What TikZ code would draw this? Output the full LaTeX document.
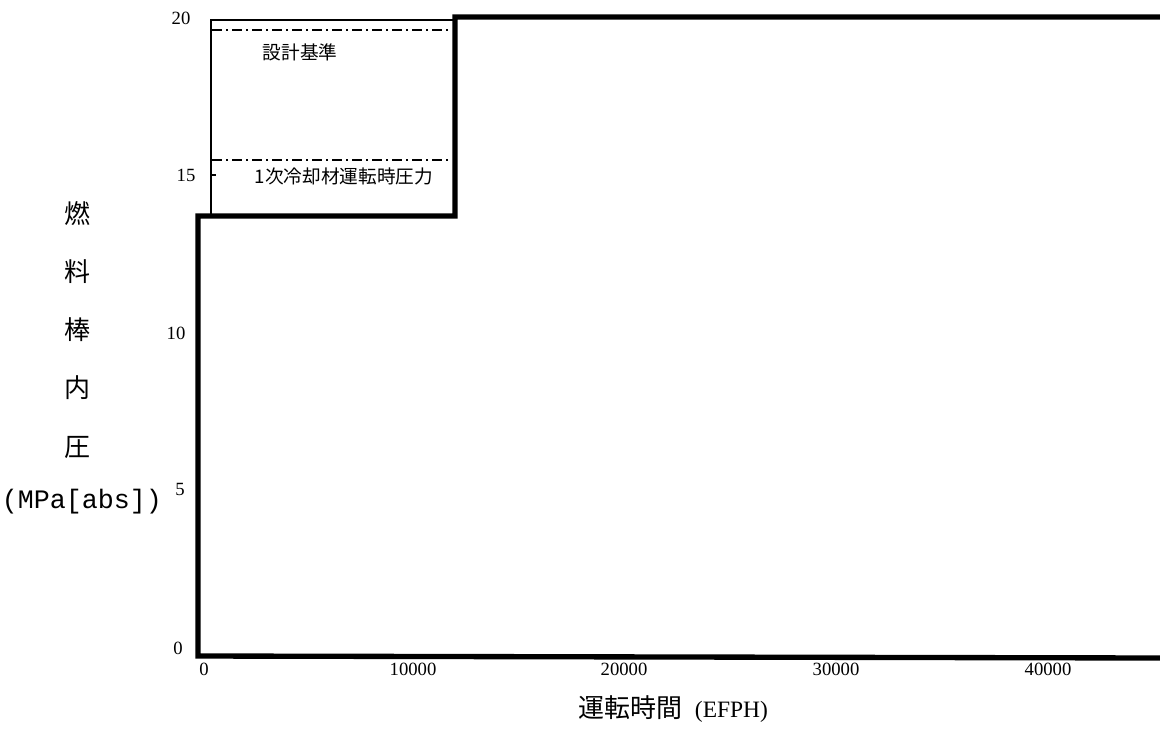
\documentclass[tikz,border=0pt]{standalone}
\usepackage{fontspec}
\setmainfont{Liberation Serif}
\setmonofont{Liberation Mono}
\newfontfamily\jpfont{Noto Sans CJK JP}
\usetikzlibrary{positioning}
\tikzset{thkline/.style={draw, line width=4pt, line join=miter}}
\tikzset{thnline/.style={draw, line width=1pt}}
\tikzset{ddline/.style={draw, line width=1.1pt, dash pattern=on 7.5pt off 3pt on 1.5pt off 3pt}}
\tikzset{numlbl/.style={inner sep=0pt, font=\fontsize{14}{14}\selectfont}}
\tikzset{jlbl/.style={inner sep=0pt, font=\jpfont\fontsize{14}{14}\selectfont}}
\tikzset{ylbl/.style={inner sep=0pt, font=\jpfont\fontsize{19.5}{20}\selectfont}}

\begin{document}
\begin{tikzpicture}[x=0.75pt, y=-0.75pt]
	\useasboundingbox (0,0) rectangle (1160,732);
	%
	\draw[thnline] (211,215) -- (211,20) -- (455,20);
	\draw[thnline] (211,175) -- (216,175);
	\draw[ddline] (212,30) -- (452,30);
	\draw[ddline] (212,160) -- (452,160);
	\node[jlbl] (dsgn) at (300,52) {設計基準};
	\node[jlbl] (rcs) at (344,176) {1次冷却材運転時圧力};
	%
	\draw[thkline] (1160,658) -- (198,656) -- (198,216) -- (455,216) -- (455,17) -- (1160,17);
	%
	\foreach \v/\x/\y in {20/181/18, 15/186/175, 10/176/333, 5/180/489, 0/178/648}
		\node[numlbl] (y\v) at (\x,\y) {\v};
	\foreach \v/\x in {0/204, 10000/413, 20000/624, 30000/836, 40000/1048}
		\node[numlbl] (x\v) at (\x,669) {\v};
	%
	\foreach \k/\y [count=\i] in {燃/214, 料/272, 棒/330, 内/388, 圧/447}
		\node[ylbl] (q\i) at (77,\y) {\k};
	\node[inner sep=0pt, font=\ttfamily\fontsize{20}{20}\selectfont] (unit) at (82,502) {(MPa[abs])};
	\node[inner sep=0pt, font=\fontsize{17.6}{18}\selectfont] (xttl) at (673,709)
		{{\jpfont\fontsize{19.5}{20}\selectfont 運転時間}\hspace{0.55em}(EFPH)};
\end{tikzpicture}
\end{document}
